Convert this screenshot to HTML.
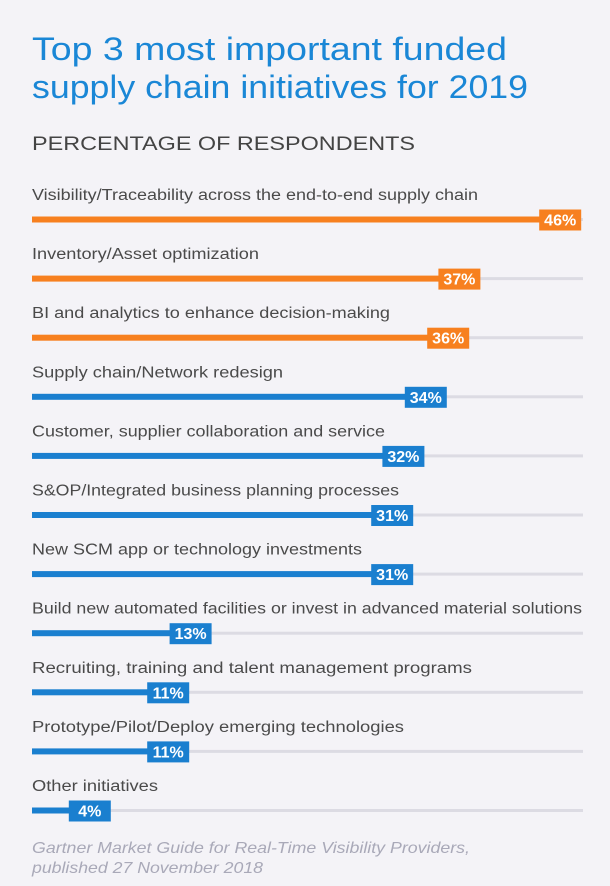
<!DOCTYPE html>
<html><head><meta charset="utf-8"><style>
html,body{margin:0;padding:0;background:#f4f3f7;}
svg{display:block;font-family:"Liberation Sans",sans-serif;}
</style></head><body>
<svg id="chart" width="610" height="886" viewBox="0 0 610 886" xmlns="http://www.w3.org/2000/svg">
<rect width="610" height="886" fill="#f4f3f7"/>
<text x="32" y="60" font-size="32" fill="#1a87d6" textLength="475" lengthAdjust="spacingAndGlyphs">Top 3 most important funded</text>
<text x="32" y="98" font-size="32" fill="#1a87d6" textLength="496" lengthAdjust="spacingAndGlyphs">supply chain initiatives for 2019</text>
<text x="32" y="150" font-size="19" fill="#444" textLength="383" lengthAdjust="spacingAndGlyphs">PERCENTAGE OF RESPONDENTS</text>
<g id="bars"></g>
<text x="32" y="853" font-size="16" font-style="italic" fill="#a9a9b8" textLength="438" lengthAdjust="spacingAndGlyphs">Gartner Market Guide for Real-Time Visibility Providers,</text>
<text x="32" y="873" font-size="16" font-style="italic" fill="#a9a9b8" textLength="231" lengthAdjust="spacingAndGlyphs">published 27 November 2018</text>
</svg>
<script>
const categories = ["Visibility/Traceability across the end-to-end supply chain","Inventory/Asset optimization","BI and analytics to enhance decision-making","Supply chain/Network redesign","Customer, supplier collaboration and service","S&OP/Integrated business planning processes","New SCM app or technology investments","Build new automated facilities or invest in advanced material solutions","Recruiting, training and talent management programs","Prototype/Pilot/Deploy emerging technologies","Other initiatives"];
const values = [46,37,36,34,32,31,31,13,11,11,4];
const highlighted = [true,true,true,false,false,false,false,false,false,false,false];
const valueLabels = ["46%","37%","36%","34%","32%","31%","31%","13%","11%","11%","4%"];
const labelWidths = [446,227,358,251,353,367,330,550,440,372,126];

const NS="http://www.w3.org/2000/svg";
const g=document.getElementById('bars');
const xLeft=32, xRight=583;
function xScale(v){return 45+11.2*v;}
function yRow(i){return 200+i*59.1;}
function mk(tag,attrs){const e=document.createElementNS(NS,tag);for(const k in attrs)e.setAttribute(k,attrs[k]);return e;}
categories.forEach((c,i)=>{
  const y=yRow(i), by=y+19.5;
  const col=highlighted[i]?'#f7801f':'#1a7fcf';
  const t=mk('text',{x:xLeft,y:y,'font-size':15.5,fill:'#4a4a4a',textLength:labelWidths[i],lengthAdjust:'spacingAndGlyphs'});
  t.textContent=c;
  
  
  g.appendChild(t);
  const track=mk('rect',{x:xLeft,y:by-1.5,width:xRight-xLeft,height:3,fill:'#dcdbe3'});
  
  
  g.appendChild(track);
  const cx=xScale(values[i]);
  const bar=mk('rect',{x:xLeft,y:by-3,width:Math.max(0,cx-xLeft),height:6,fill:col});
  
  
  g.appendChild(bar);
  const box=mk('rect',{x:cx-21,y:by-10,width:42,height:21,fill:col});
  
  
  g.appendChild(box);
  const vt=mk('text',{x:cx,y:by+6,'font-size':16,'font-weight':'bold',fill:'#fff','text-anchor':'middle'});
  vt.textContent=valueLabels[i];
  
  
  g.appendChild(vt);
});
</script>
</body></html>
